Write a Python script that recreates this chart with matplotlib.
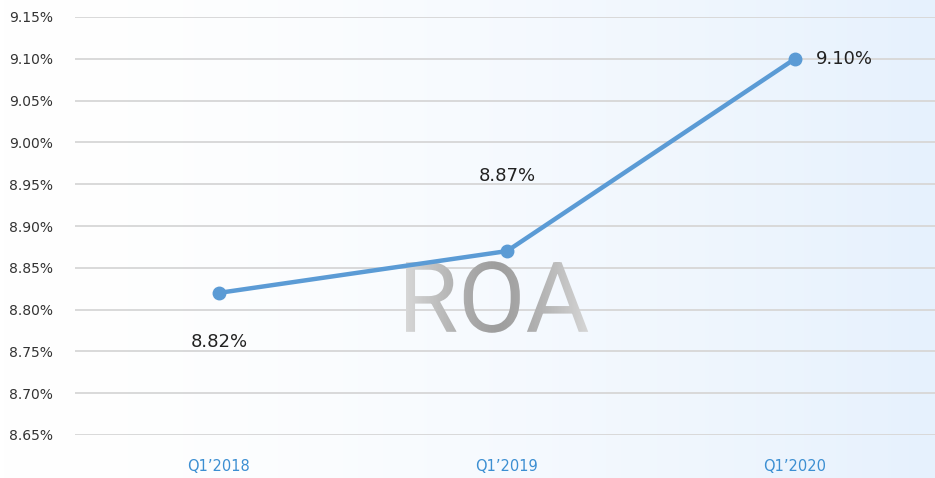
import numpy as np
import matplotlib
matplotlib.use("Agg")
import matplotlib.pyplot as plt
from matplotlib.textpath import TextPath
from matplotlib.patches import PathPatch
from matplotlib.font_manager import FontProperties
from matplotlib.transforms import Affine2D

# data
quarters = ["Q1’2018", "Q1’2019", "Q1’2020"]
roa = [8.82, 8.87, 9.10]
value_labels = ["8.82%", "8.87%", "9.10%"]
yticks = [8.65, 8.70, 8.75, 8.80, 8.85, 8.90, 8.95, 9.00, 9.05, 9.10, 9.15]

fig = plt.figure(figsize=(9.35, 4.78), dpi=100)

# background gradient white -> light blue
bg = fig.add_axes([0, 0, 1, 1], zorder=-10)
grad = np.linspace(0, 1, 256) ** 1.6
white = np.array([1.0, 1.0, 1.0])
blue = np.array([0xe6, 0xf1, 0xfd]) / 255
img = white[None, :] * (1 - grad[:, None]) + blue[None, :] * grad[:, None]
bg.imshow(img[None, :, :], aspect="auto", extent=[0, 1, 0, 1])
bg.axis("off")

ax = fig.add_axes([75 / 935, 43 / 478, 864 / 935, 418 / 478])
ax.patch.set_alpha(0)
x = np.arange(len(quarters))
ax.set_xlim(-0.5, 2.5)
ax.set_ylim(8.65, 9.15)
ax.set_yticks(yticks)
ax.set_yticklabels([f"{v:.2f}%" for v in yticks], color="#333333", fontsize=10)
ax.set_xticks(x)
ax.set_xticklabels(quarters, color="#3c8fd2", fontsize=10.5)
ax.tick_params(length=0, pad=0)
ax.tick_params(axis="y", pad=16)
ax.tick_params(axis="x", pad=17.5)
for s in ax.spines.values():
    s.set_visible(False)
ax.grid(axis="y", color="#d9d9d9", lw=1.4)
ax.set_axisbelow(True)

# big ROA watermark with gray gradient
fp = FontProperties(family="Roboto", weight="normal")
tp = TextPath((0, 0), "ROA", size=98, prop=fp)
bb = tp.get_extents()
cx, cy = 497, 297
tr = Affine2D().translate(-(bb.x0 + bb.x1) / 2, -(bb.y0 + bb.y1) / 2).translate(cx, 478 - cy)
path = tr.transform_path(tp)
wm = fig.add_axes([0, 0, 1, 1], zorder=1)
wm.set_xlim(0, 935)
wm.set_ylim(0, 478)
wm.axis("off")
patch = PathPatch(path, facecolor="none", edgecolor="none")
wm.add_patch(patch)
g = np.linspace(-1, 1, 256)
shade = 0.62 + 0.22 * np.abs(g) ** 1.3
gimg = np.stack([shade, shade, shade], axis=-1)[None, :, :]
pb = path.get_extents()
im = wm.imshow(gimg, aspect="auto", extent=[pb.x0, pb.x1, pb.y0, pb.y1], zorder=1)
im.set_clip_path(patch)

# line on top
la = fig.add_axes(ax.get_position(), zorder=2, sharex=ax, sharey=ax)
la.axis("off")
la.plot(x, roa, color="#5b9bd5", lw=3.2, marker="o", markersize=9, solid_capstyle="round")
la.annotate(value_labels[0], (x[0], roa[0]), xytext=(0, -49), textcoords="offset pixels",
            ha="center", va="center", fontsize=13, color="#222222")
la.annotate(value_labels[1], (x[1], roa[1]), xytext=(0, 75), textcoords="offset pixels",
            ha="center", va="center", fontsize=13, color="#222222")
la.annotate(value_labels[2], (x[2], roa[2]), xytext=(49, 0), textcoords="offset pixels",
            ha="center", va="center", fontsize=13, color="#222222")

fig.savefig("out.png", dpi=100)
